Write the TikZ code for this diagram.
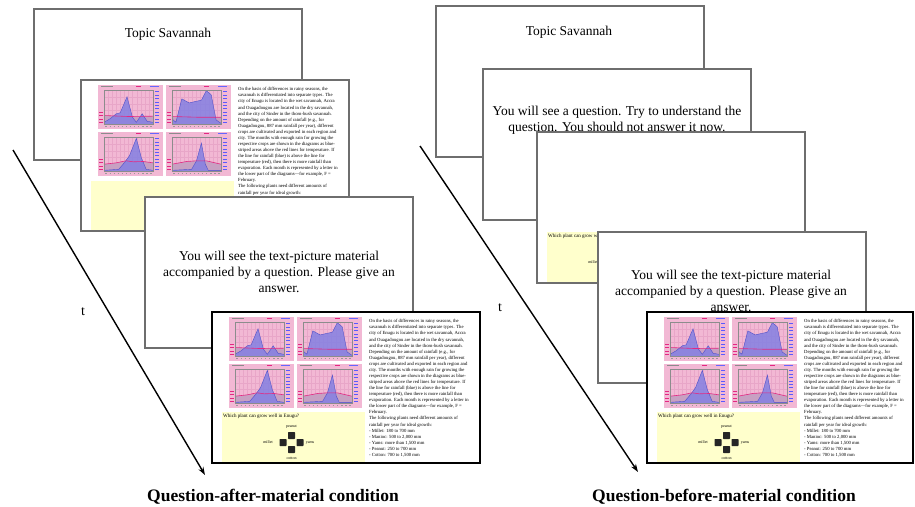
\documentclass[tikz,border=0pt]{standalone}
\usepackage{fontspec}
\setmainfont{Liberation Serif}
\usetikzlibrary{arrows.meta}
\definecolor{scrgray}{RGB}{110,110,110}
\definecolor{qyellow}{RGB}{255,255,204}
\definecolor{chpink}{RGB}{242,184,212}
\definecolor{chgrid}{RGB}{232,166,200}
\definecolor{chblue}{RGB}{132,128,226}
\definecolor{chblueline}{RGB}{80,80,200}
\definecolor{chgray}{RGB}{200,160,194}
\definecolor{chred}{RGB}{228,40,130}
\tikzset{
 screen/.style={fill=white, minimum width=268pt, minimum height=151pt, inner sep=0pt, outer sep=0pt, anchor=north west},
 thinborder/.style={draw=scrgray, line width=1.2pt},
 thickborder/.style={draw=black, line width=2.6pt},
 bigtext/.style={font=\fontsize{13.5}{16}\selectfont, align=center, inner sep=0pt},
 coltext/.style={font=\fontsize{4.7}{6.07}\selectfont, align=left, inner sep=0pt, anchor=north west},
 qtext/.style={font=\fontsize{5}{6}\selectfont, inner sep=0pt},
 keytext/.style={font=\fontsize{4}{5}\selectfont, inner sep=0pt},
 keybox/.style={fill=black!85, minimum size=7pt, inner sep=0pt, rounded corners=0.6pt},
 captiontext/.style={font=\fontsize{17.5}{20}\selectfont\bfseries, inner sep=0pt},
 tlabel/.style={font=\fontsize{14}{16}\selectfont, inner sep=0pt},
 timearrow/.style={line width=1.4pt, -{Stealth[length=8pt,width=5.5pt]}},
}
% one climate chart: #1 X, #2 Y (top-left), #3 rain, #4 temperature
\newcommand\onechart[4]{%
 \fill[chpink] (#1,#2) rectangle ++(65,44);
 \begin{scope}[shift={(#1+6,#2+39)},x=49pt,y=34pt]
  \foreach \i in {1,...,11}{\draw[chgrid,line width=0.2pt] (\i/12,0) -- (\i/12,1);}
  \foreach \j in {0.2,0.4,0.6,0.8}{\draw[chgrid,line width=0.2pt] (0,\j) -- (1,\j);}
  \fill[chgray] (0,0) -- plot coordinates {#4} -- (1,0) -- cycle;
  \fill[chblue,opacity=0.85] (0,0) -- plot coordinates {#3} -- (1,0) -- cycle;
  \draw[chblueline,line width=0.4pt] plot coordinates {#3};
  \draw[chred,line width=0.6pt] plot coordinates {#4};
  \draw[black!45,line width=0.3pt] (0,0) rectangle (1,1);
  \foreach \j in {0.05,0.15,...,0.95}{\draw[blue!65,line width=0.7pt] (1.05,\j) -- (1.13,\j);}
  \foreach \j in {0.05,0.15,0.25,0.35}{\draw[chred,line width=0.6pt] (-0.1,\j) -- (-0.03,\j);}
  \foreach \i in {0.03,0.113,...,0.98}{\draw[black!40,line width=0.5pt] (\i,-0.07) -- (\i+0.03,-0.07);}
 \end{scope}
 \fill[black!45] (#1+3,#2+1.3) rectangle ++(12,1);
 \fill[chred] (#1+38,#2+1.3) rectangle ++(5,1);
 \fill[blue!60] (#1+52,#2+1.3) rectangle ++(9,1);
}
\newcommand\fourcharts[2]{%
 \onechart{#1+17}{#2+5}{(0,0.05) (0.12,0.15) (0.25,0.3) (0.33,0.33) (0.47,0.8) (0.58,0.2) (0.66,0.05) (0.78,0.3) (0.88,0.08) (1,0.05)}{(0,0.25) (0.5,0.22) (1,0.23)}
 \onechart{#1+85}{#2+5}{(0,0.15) (0.08,0.05) (0.2,0.74) (0.35,0.62) (0.5,0.67) (0.6,0.7) (0.7,0.98) (0.8,0.86) (0.9,0.12) (1,0.02)}{(0,0.22) (0.5,0.2) (1,0.2)}
 \onechart{#1+17}{#2+52}{(0,0.02) (0.3,0.05) (0.42,0.25) (0.52,0.45) (0.66,0.96) (0.76,0.4) (0.86,0.05) (1,0.02)}{(0,0.2) (0.25,0.24) (0.45,0.3) (0.6,0.27) (0.8,0.28) (1,0.24)}
 \onechart{#1+85}{#2+52}{(0,0.02) (0.4,0.05) (0.5,0.3) (0.6,0.82) (0.68,0.2) (0.74,0.02) (1,0.02)}{(0,0.2) (0.3,0.28) (0.5,0.3) (0.7,0.3) (1,0.2)}
}
% text column: #1 name, #2 X, #3 Y
\newcommand\materialtext[3]{%
 \node[coltext] (#1) at (#2+157,#3+7.3) {On the basis of differences in rainy seasons, the\\
savannah is differentiated into separate types. The\\
city of Enugu is located in the wet savannah, Accra\\
and Ouagadougou are located in the dry savannah,\\
and the city of Sinder in the thorn-bush savannah.\\
Depending on the amount of rainfall (e.g., for\\
Ouagadougou, 887 mm rainfall per year), different\\
crops are cultivated and exported in each region and\\
city. The months with enough rain for growing the\\
respective crops are shown in the diagrams as blue-\\
striped areas above the red lines for temperature. If\\
the line for rainfall (blue) is above the line for\\
temperature (red), then there is more rainfall than\\
evaporation. Each month is represented by a letter in\\
the lower part of the diagrams---for example, F =\\
February.\\
The following plants need different amounts of\\
rainfall per year for ideal growth:\\
- Millet: 180 to 700 mm\\
- Manioc: 500 to 2,000 mm\\
- Yams: more than 1,500 mm\\
- Peanut: 250 to 700 mm\\
- Cotton: 700 to 1,500 mm};
}
% question area: #1 prefix, #2 X, #3 Y
\newcommand\questionarea[3]{%
 \fill[qyellow] (#2+10,#3+100) rectangle (#2+153,#3+151);
 \node[qtext,anchor=west] (#1q) at (#2+11,#3+104.7) {Which plant can grow well in Enugu?};
 \node[keybox] (#1kt) at (#2+79.5,#3+123.5) {};
 \node[keybox] (#1kl) at (#2+71,#3+130.5) {};
 \node[keybox] (#1kr) at (#2+88,#3+130.5) {};
 \node[keybox] (#1kb) at (#2+79.5,#3+137.5) {};
 \node[keytext] (#1pe) at (#2+79.5,#3+115) {peanut};
 \node[keytext] (#1co) at (#2+79.5,#3+146.5) {cotton};
 \node[keytext] (#1mi) at (#2+56,#3+130.5) {millet};
 \node[keytext] (#1ya) at (#2+98,#3+130.5) {yams};
}
\begin{document}
\begin{tikzpicture}[x=1pt,y=-1pt]
\useasboundingbox (0,0) rectangle (915,506);
\fill[white] (0,0) rectangle (915,506);
% ---------------- left: question after material
\node[screen] (A1) at (34,9) {};
\node[bigtext] (A1t) at (168,34) {Topic Savannah};
\draw[thinborder] (A1.north west) rectangle (A1.south east);

\node[screen] (A2) at (81,80) {};
\fourcharts{81}{80}
\fill[qyellow] (91,181) rectangle (234,231);
\materialtext{A2x}{81}{80}
\draw[thinborder] (A2.north west) rectangle (A2.south east);

\node[screen] (A3) at (145,197) {};
\node[bigtext] (A3t) at (279,272) {You will see the text-picture material\\accompanied by a question. Please give an\\answer.};
\draw[thinborder] (A3.north west) rectangle (A3.south east);

\node[screen] (A4) at (212,312) {};
\fourcharts{212}{312}
\questionarea{A4}{212}{312}
\materialtext{A4x}{212}{312}
\draw[thickborder] (A4.north west) rectangle (A4.south east);

\coordinate (La) at (13,150);
\coordinate (Lb) at (205,475);
\draw[timearrow] (La) -- (Lb);
\node[tlabel] (Lt) at (83,312) {t};
\node[captiontext] (Lc) at (273,497) {Question-after-material condition};

% ---------------- right: question before material
\node[screen] (B1) at (436,6) {};
\node[bigtext] (B1t) at (569,32) {Topic Savannah};
\draw[thinborder] (B1.north west) rectangle (B1.south east);

\node[screen] (B2) at (483,69) {};
\node[bigtext] (B2t) at (617,120) {You will see a question. Try to understand the\\question. You should not answer it now.};
\draw[thinborder] (B2.north west) rectangle (B2.south east);

\node[screen] (B3) at (537,132) {};
\questionarea{B3}{537}{132}
\draw[thinborder] (B3.north west) rectangle (B3.south east);

\node[screen] (B4) at (598,232) {};
\node[bigtext] (B4t) at (731,291) {You will see the text-picture material\\accompanied by a question. Please give an\\answer.};
\draw[thinborder] (B4.north west) rectangle (B4.south east);

\node[screen, minimum width=266pt] (B5) at (647,312) {};
\fourcharts{647}{312}
\questionarea{B5}{647}{312}
\materialtext{B5x}{647}{312}
\draw[thickborder] (B5.north west) rectangle (B5.south east);

\coordinate (Ra) at (420,146);
\coordinate (Rb) at (638,472);
\draw[timearrow] (Ra) -- (Rb);
\node[tlabel] (Rt) at (500,308) {t};
\node[captiontext] (Rc) at (724,497) {Question-before-material condition};
\end{tikzpicture}
\end{document}
